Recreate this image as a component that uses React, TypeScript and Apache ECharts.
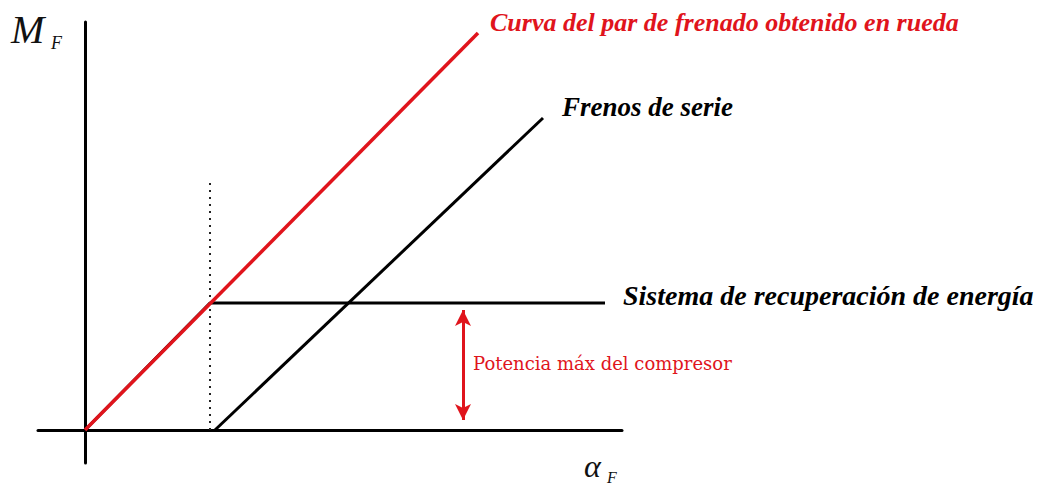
import React, { useEffect, useRef } from "react";
import * as echarts from "echarts";

// Data (axis units: origin at 0,0; arbitrary torque / slip units)
const wheelTorque: number[][] = [[0, 0], [393, 397]];
const recoveryCurve: number[][] = [[0, 0], [125, 127], [520, 127]];
const seriesBrakes: number[][] = [[130, 0], [458, 312]];
const limitMarker: number[][] = [[125, 0], [125, 251]];
const compressorArrow: number[][] = [[378, 10], [378, 120]];

const labelWheel = "Curva del par de frenado obtenido en rueda";
const labelSeries = "Frenos de serie";
const labelRecovery = "Sistema de recuperación de energía";
const labelCompressor = "Potencia máx del compresor";

const RED = "#e0141c";

export default function App() {
  const ref = useRef<HTMLDivElement>(null);
  useEffect(() => {
    if (!ref.current) return;
    const chart = echarts.init(ref.current, null, { renderer: "svg" });
    const bi = (s: number) => `italic bold ${s}px 'Liberation Serif', serif`;
    chart.setOption({
      animation: false,
      backgroundColor: "#ffffff",
      grid: { left: 38, top: 22, width: 584, height: 441, containLabel: false },
      xAxis: {
        type: "value",
        min: -47,
        max: 537,
        axisLine: { show: true, onZero: true, lineStyle: { color: "#000", width: 3 } },
        axisTick: { show: false },
        axisLabel: { show: false },
        splitLine: { show: false },
      },
      yAxis: {
        type: "value",
        min: -33,
        max: 408,
        axisLine: { show: true, onZero: true, lineStyle: { color: "#000", width: 3 } },
        axisTick: { show: false },
        axisLabel: { show: false },
        splitLine: { show: false },
      },
      series: [
        {
          type: "line",
          data: limitMarker,
          symbol: "none",
          lineStyle: { color: "#222", width: 2, type: [2, 5] },
          silent: true,
        },
        {
          type: "line",
          data: recoveryCurve,
          symbol: "none",
          lineStyle: { color: "#000", width: 3 },
          silent: true,
        },
        {
          type: "line",
          data: seriesBrakes,
          symbol: "none",
          lineStyle: { color: "#000", width: 3 },
          silent: true,
        },
        {
          type: "line",
          data: wheelTorque,
          symbol: "none",
          lineStyle: { color: RED, width: 3.5 },
          silent: true,
          markLine: {
            silent: true,
            symbol: ["arrow", "arrow"],
            symbolSize: [12, 16],
            label: { show: false },
            lineStyle: { color: RED, width: 3, type: "solid" },
            data: [[{ coord: compressorArrow[0] }, { coord: compressorArrow[1] }]],
          },
        },
      ],
      graphic: [
        { type: "text", style: { text: labelWheel, x: 490, y: 22, verticalAlign: "middle", font: bi(26), fill: RED } },
        { type: "text", style: { text: labelSeries, x: 562, y: 107, verticalAlign: "middle", font: bi(27), fill: "#000" } },
        { type: "text", style: { text: labelRecovery, x: 623, y: 295, verticalAlign: "middle", font: bi(28), fill: "#000" } },
        { type: "text", style: { text: labelCompressor, x: 473, y: 363, verticalAlign: "middle", font: "18px 'DejaVu Serif', serif", fill: RED } },
        { type: "text", style: { text: "M", x: 11, y: 29, verticalAlign: "middle", font: "italic 40px 'Liberation Serif', serif", fill: "#111" } },
        { type: "text", style: { text: "F", x: 51, y: 43, verticalAlign: "middle", font: "italic 18px 'Liberation Serif', serif", fill: "#111" } },
        { type: "text", style: { text: "α", x: 584, y: 466, verticalAlign: "middle", font: "italic 32px 'Liberation Serif', serif", fill: "#111" } },
        { type: "text", style: { text: "F", x: 607, y: 477, verticalAlign: "middle", font: "italic 16px 'Liberation Serif', serif", fill: "#111" } },
      ],
    });
    return () => chart.dispose();
  }, []);
  return (
    <div
      ref={ref}
      style={{ position: "absolute", left: 0, top: 0, width: 1047, height: 487, background: "#fff" }}
    />
  );
}
